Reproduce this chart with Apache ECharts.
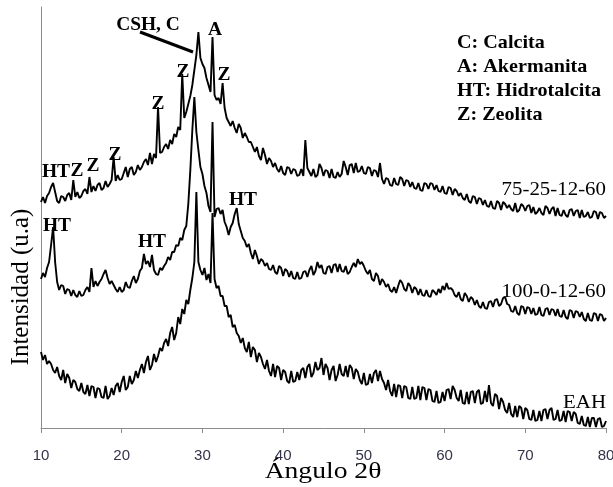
<!DOCTYPE html>
<html>
<head>
<meta charset="utf-8">
<script src="https://cdn.jsdelivr.net/npm/echarts@6/dist/echarts.min.js"></script>
<style>
html,body{margin:0;padding:0;background:#fff;}
#chart{width:613px;height:487px;}
</style>
</head>
<body>
<div id="chart"></div>
<script>
// Scan: 2θ from 10 to 80 in steps of 0.25
const angleStart = 10;
const angleStep = 0.25;
const xTicks = [10, 20, 30, 40, 50, 60, 70, 80];
const seriesNames = ['75-25-12-60', '100-0-12-60', 'EAH'];

// Intensity (arbitrary units, offset traces as in the figure)
const intensity7525 = [
226,231,225,232, 235,241,245,236,
227,225,232,231, 227,233,235,228,
248,231,236,230, 232,237,239,234,
251,236,242,237, 243,245,238,240,
247,241,244,248, 271,247,253,248,
249,255,261,251, 259,261,253,256,
263,258,261,266, 269,263,275,264,
274,270,321,275, 276,281,284,279,
288,284,294,291, 301,298,354,310,
316,324,332,343, 358,373,396,370,
364,360,350,343, 336,391,333,328,
330,324,345,320, 310,306,302,307,
300,295,304,300, 290,295,291,286,
286,281,276,281, 272,268,280,273,
264,270,267,261, 265,259,256,262,
255,253,261,260, 254,259,258,252,
253,259,252,288, 260,256,252,259,
251,253,264,260, 252,258,257,250,
259,251,250,256, 251,254,267,261,
253,263,264,255, 265,256,257,262,
255,254,261,260, 252,258,257,251,
265,249,244,250, 249,243,242,250,
244,243,251,249, 242,248,247,241,
246,240,239,245, 238,237,245,244,
239,245,244,238, 243,237,236,242,
235,234,241,240, 233,239,237,232,
235,230,228,234, 227,225,232,231,
224,230,229,223, 228,222,221,227,
220,219,227,225, 218,226,224,220,
223,219,217,225, 216,218,224,222,
217,222,223,215, 221,214,216,220,
215,213,222,220, 214,219,221,212,
220,213,212,218, 213,211,218,219,
212,217,218,210, 218,211,212,216,
210,211,217,216, 209,216,215,210,
212
];

const intensity100 = [
149,155,151,160, 166,183,201,166,
146,138,143,142, 134,139,138,132,
138,133,131,137, 132,133,138,141,
136,160,141,147, 142,146,149,154,
158,150,144,147, 143,139,136,141,
136,138,146,141, 140,147,152,145,
149,157,160,174, 164,167,161,173,
158,154,153,160, 158,162,165,171,
168,176,176,183, 182,190,188,198,
202,224,258,298, 331,296,278,261,
254,242,235,222, 216,306,211,219,
220,214,218,206, 201,193,201,205,
214,220,204,197, 190,187,181,184,
175,169,178,172, 164,169,167,162,
165,159,158,163, 156,154,162,160,
152,159,157,151, 157,150,149,156,
149,150,156,157, 151,158,162,153,
157,166,160,163, 155,154,161,162,
155,163,164,156, 164,157,156,162,
154,156,161,165, 161,169,164,166,
162,157,154,158, 149,147,155,152,
143,149,146,141, 144,138,136,141,
135,142,148,145, 139,137,145,142,
135,141,139,133, 139,133,132,138,
132,131,138,136, 133,139,135,142,
138,145,139,140, 138,133,131,136,
129,127,135,132, 126,131,129,123,
128,122,120,126, 120,119,126,127,
121,128,129,122, 124,130,131,124,
123,117,116,122, 115,113,122,121,
114,121,120,114, 120,113,114,121,
113,112,119,120, 113,119,118,112,
119,112,111,118, 111,109,118,117,
110,117,116,111, 116,109,107,115,
108,107,115,114, 107,114,113,107,
110
];

const intensityEAH = [
76,68,73,64, 67,64,58,55,
61,52,48,58, 45,54,50,40,
48,46,39,37, 45,36,34,43,
32,42,41,30, 40,39,31,30,
42,29,32,40, 33,42,45,36,
46,52,38,41, 52,44,48,57,
50,58,64,55, 66,72,58,63,
74,66,72,80, 77,85,89,82,
95,101,88,95, 111,104,119,114,
128,124,138,150, 166,236,166,158,
153,160,148,154, 145,215,149,140,
142,132,132,122, 122,111,113,101,
103,95,92,85, 90,80,76,86,
71,81,78,66, 75,71,64,59,
68,57,52,64, 51,62,60,48,
58,56,47,45, 57,46,47,56,
48,58,60,50, 61,64,51,55,
66,58,60,70, 53,64,60,48,
58,62,47,53, 64,54,52,62,
51,63,60,49, 59,56,48,44,
55,43,44,54, 45,55,58,47,
57,49,45,38, 48,37,32,44,
31,43,42,30, 42,41,30,29,
41,29,30,42, 28,41,40,28,
39,38,27,26, 37,25,26,36,
27,38,39,29, 42,38,30,27,
38,25,24,36, 24,36,37,25,
36,38,24,25, 37,26,43,25,
22,34,32,19, 30,26,18,15,
25,14,11,22, 11,22,20,9,
20,18,9,8, 18,7,8,17,
7,18,19,9, 18,20,8,9,
18,7,8,17, 6,17,16,7,
16,14,5,4, 12,3,2,11,
1,10,10,1, 9,10,1,2,
7
];

// Peak annotations and key
const peakLabels = [
  {text: 'CSH, C', x: 148, y: 25},
  {text: 'A', x: 215, y: 30},
  {text: 'Z', x: 183, y: 72},
  {text: 'Z', x: 224, y: 75},
  {text: 'Z', x: 158, y: 104},
  {text: 'Z', x: 115, y: 155},
  {text: 'Z', x: 93, y: 166},
  {text: 'Z', x: 77, y: 171},
  {text: 'HT', x: 56, y: 172},
  {text: 'HT', x: 57, y: 226},
  {text: 'HT', x: 152, y: 242},
  {text: 'HT', x: 243, y: 200}
];
const keyLines = ['C: Calcita', 'A: Akermanita', 'HT: Hidrotalcita', 'Z: Zeolita'];

function toPairs(vals) {
  return vals.map((v, i) => [angleStart + i * angleStep, v]);
}

const chart = echarts.init(document.getElementById('chart'), null, {renderer: 'canvas'});
const serif = '"Liberation Serif", "DejaVu Serif", serif';

const graphics = [];
peakLabels.forEach(p => {
  graphics.push({
    type: 'text', x: p.x, y: p.y, scaleX: 1.08, z: 100,
    style: {text: p.text, fontFamily: serif, fontWeight: 'bold', fontSize: 18,
            fill: '#000', textAlign: 'center', textVerticalAlign: 'middle',
            align: 'center', verticalAlign: 'middle'}
  });
});
graphics.push({
  type: 'line', z: 100,
  shape: {x1: 140, y1: 32, x2: 193, y2: 52},
  style: {stroke: '#000', lineWidth: 3}
});
keyLines.forEach((t, i) => {
  graphics.push({
    type: 'text', x: 457, y: 43 + i * 24, scaleX: 1.06, z: 100,
    style: {text: t, fontFamily: serif, fontWeight: 'bold', fontSize: 19,
            fill: '#000', textAlign: 'left', textVerticalAlign: 'middle',
            align: 'left', verticalAlign: 'middle'}
  });
});
const seriesLabelPos = [190, 292, 403];
seriesNames.forEach((n, i) => {
  graphics.push({
    type: 'text', x: 606, y: seriesLabelPos[i], scaleX: 1.1, z: 100,
    style: {text: n, fontFamily: serif, fontSize: 19, fill: '#000',
            textAlign: 'right', textVerticalAlign: 'middle',
            align: 'right', verticalAlign: 'middle'}
  });
});
graphics.push({
  type: 'text', x: 21, y: 287, rotation: Math.PI / 2, z: 100,
  style: {text: 'Intensidad (u.a)', fontFamily: serif, fontSize: 25, fill: '#000',
          textAlign: 'center', textVerticalAlign: 'middle',
          align: 'center', verticalAlign: 'middle'}
});
graphics.push({
  type: 'text', x: 323, y: 472, scaleX: 1.15, z: 100,
  style: {text: 'Ángulo 2θ', fontFamily: serif, fontSize: 24, fill: '#000',
          textAlign: 'center', textVerticalAlign: 'middle',
          align: 'center', verticalAlign: 'middle'}
});

const lineCommon = {
  type: 'line', showSymbol: false, symbol: 'none', smooth: false,
  sampling: null, animation: false,
  lineStyle: {color: '#000', width: 1.9, join: 'bevel'}
};

chart.setOption({
  animation: false,
  backgroundColor: '#fff',
  grid: {left: 41, right: 7, top: 7, bottom: 59, containLabel: false, outerBoundsMode: 'none'},
  xAxis: {
    type: 'value', min: xTicks[0], max: xTicks[xTicks.length - 1], interval: 10,
    axisLine: {show: true, lineStyle: {color: '#8c8c8c', width: 1}},
    axisTick: {show: true, length: 5, lineStyle: {color: '#8c8c8c'}},
    axisLabel: {margin: 20, fontSize: 15, color: '#33334a',
                fontFamily: '"Liberation Sans", Arial, sans-serif',
                formatter: v => (xTicks.indexOf(v) >= 0 ? String(v) : '')},
    splitLine: {show: false}
  },
  yAxis: {
    type: 'value', min: 0, max: 421,
    axisLine: {show: true, lineStyle: {color: '#8c8c8c', width: 1}},
    axisTick: {show: false}, axisLabel: {show: false}, splitLine: {show: false}
  },
  graphic: graphics,
  series: [
    Object.assign({name: seriesNames[0], data: toPairs(intensity7525)}, lineCommon),
    Object.assign({name: seriesNames[1], data: toPairs(intensity100)}, lineCommon),
    Object.assign({name: seriesNames[2], data: toPairs(intensityEAH)}, lineCommon)
  ]
});
</script>
</body>
</html>
